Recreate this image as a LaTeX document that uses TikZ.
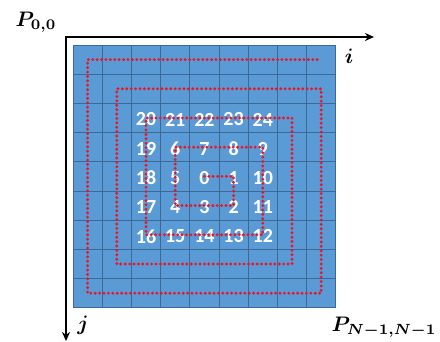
\documentclass[tikz,border=0pt]{standalone}
\usepackage{fontspec}
\usepackage{bm}
\usepackage{graphicx}
\newfontfamily\numfont{Carlito}
\usetikzlibrary{arrows.meta}
\definecolor{cellblue}{RGB}{91,155,213}
\definecolor{gridblue}{RGB}{60,105,150}
\definecolor{dotred}{RGB}{232,22,40}
\newcommand{\biglab}[1]{\scalebox{2.1}{$\bm{#1}$}}
\begin{document}
\begin{tikzpicture}[x=1pt,y=-1pt,
  cell/.style={draw=gridblue, fill=cellblue, line width=0.8pt},
  num/.style={text=white, font=\numfont\bfseries\fontsize{20}{20}\selectfont, inner sep=0pt},
  spiral/.style={draw=dotred, line width=3.2pt, dash pattern=on 0pt off 4.4pt, line cap=round},
  axis/.style={line width=1.8pt, line join=miter, {Stealth[length=9pt,width=8pt]}-{Stealth[length=9pt,width=8pt]}},
  lab/.style={inner sep=0pt}]
\useasboundingbox (0,0) rectangle (440,342);
\fill[white] (0,0) rectangle (440,342);
% grid of cells
\foreach \c in {0,...,8} {
  \foreach \r in {0,...,8} {
    \draw[cell] (73+29.2*\c, 45+29.2*\r) rectangle ++(29.2,29.2);
    \coordinate (c\c-\r) at (87.6+29.2*\c, 59.6+29.2*\r);
  }
}
% numbers
\foreach \n/\c/\r in {0/4/4,1/5/4,2/5/5,3/4/5,4/3/5,5/3/4,6/3/3,7/4/3,8/5/3,9/6/3,
  10/6/4,11/6/5,12/6/6,13/5/6,14/4/6,15/3/6,16/2/6,17/2/5,18/2/4,19/2/3,
  20/2/2,21/3/2,22/4/2,23/5/2,24/6/2} {
  \node[num] (n\n) at ([yshift=-1.5pt]c\c-\r) {\n};
}
% spiral path
\draw[spiral] (c4-4) -- (c5-4) -- (c5-5) -- (c3-5) -- (c3-3) -- (c6-3) -- (c6-6)
  -- (c2-6) -- (c2-2) -- (c7-2) -- (c7-7) -- (c1-7) -- (c1-1) -- (c8-1)
  -- (c8-8) -- (c0-8) -- (c0-0) -- (c8-0);
% axes
\coordinate (O) at (66,37);
\coordinate (xe) at (374,37);
\coordinate (ye) at (66,341);
\draw[axis] (ye) -- (O) -- (xe);
% labels
\node[lab] (p00) at (36,22) {\biglab{P_{0,0}}};
\node[lab] (pnn) at (384,327) {\biglab{P_{N-1,N-1}}};
\node[lab] (li) at (349,56) {\biglab{i}};
\node[lab] (lj) at (83,325) {\biglab{j}};
\end{tikzpicture}
\end{document}
